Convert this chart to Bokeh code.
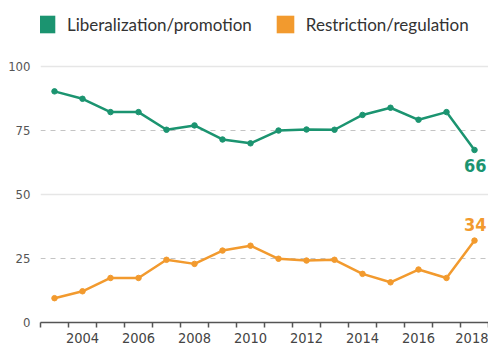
from bokeh.plotting import figure
from bokeh.models import (ColumnDataSource, Range1d, FixedTicker, Grid, Legend, LegendItem)
from bokeh.core.properties import value
from bokeh.embed import file_html
from bokeh.resources import INLINE

years = list(range(2003, 2019))
liberalization = [90.3, 87.4, 82.2, 82.2, 75.3, 77.0, 71.5, 70.0, 75.0, 75.4, 75.3, 81.1, 83.9, 79.2, 82.2, 67.4]
restriction = [9.5, 12.2, 17.4, 17.4, 24.5, 22.9, 28.1, 30.0, 24.9, 24.2, 24.5, 19.0, 15.7, 20.7, 17.4, 32.0]
end_labels = ["66", "34"]
series_names = ["Liberalization/promotion", "Restriction/regulation"]
label_years = [2004, 2006, 2008, 2010, 2012, 2014, 2016, 2018]
y_ticks = [0, 25, 50, 75, 100]

GREEN = "#1b9470"
ORANGE = "#f29a2e"
NARROW = "DejaVu Sans Condensed"

p = figure(width=488, height=345, output_backend="svg", toolbar_location=None,
           x_range=Range1d(2002.5, 2018.5), y_range=Range1d(0, 125.8),
           min_border_left=40, min_border_right=0, min_border_top=0, min_border_bottom=23)
p.outline_line_color = None
p.background_fill_color = "white"
p.border_fill_color = "white"
p.xgrid.visible = False
p.ygrid.visible = False

# grids
g1 = Grid(dimension=1, ticker=FixedTicker(ticks=[50, 100]), grid_line_color="#e6e6e6", grid_line_width=1.5)
g2 = Grid(dimension=1, ticker=FixedTicker(ticks=[25, 75]), grid_line_color="#c4c4c4", grid_line_dash="5 5", grid_line_width=1)
p.add_layout(g1)
p.add_layout(g2)

# axes
xa = p.xaxis[0]
xa.ticker = FixedTicker(ticks=label_years, minor_ticks=[y - 0.5 for y in years] + [2018.5])
xa.major_tick_out = 0
xa.major_tick_in = 0
xa.minor_tick_out = 5
xa.minor_tick_in = 0
xa.axis_line_color = "#555555"
xa.axis_line_width = 1.5
xa.minor_tick_line_color = "#555555"
xa.minor_tick_line_width = 1.5
xa.major_label_standoff = 5
xa.major_label_text_font = NARROW
xa.major_label_text_font_size = "14.5px"
xa.major_label_text_color = "#444444"

ya = p.yaxis[0]
ya.ticker = FixedTicker(ticks=y_ticks)
ya.axis_line_color = None
ya.major_tick_out = 0
ya.major_tick_in = 0
ya.minor_tick_line_color = None
ya.major_label_standoff = 10
ya.major_label_text_font = NARROW
ya.major_label_text_font_size = "13px"
ya.major_label_text_color = "#555555"

src = ColumnDataSource(dict(x=years, lib=liberalization, res=restriction))
p.line("x", "lib", source=src, line_color=GREEN, line_width=2.5)
p.scatter("x", "lib", source=src, color=GREEN, size=5.5)
p.line("x", "res", source=src, line_color=ORANGE, line_width=2.5)
p.scatter("x", "res", source=src, color=ORANGE, size=5.5)

# end labels
p.text(x=[years[-1]], y=[liberalization[-1]], text=[end_labels[0]], text_color=GREEN,
       text_font=value(NARROW), text_font_style="bold", text_font_size="18px",
       text_align="right", text_baseline="alphabetic", x_offset=12, y_offset=16)
p.text(x=[years[-1]], y=[restriction[-1]], text=[end_labels[1]], text_color=ORANGE,
       text_font=value(NARROW), text_font_style="bold", text_font_size="18px",
       text_align="right", text_baseline="alphabetic", x_offset=12, y_offset=-16)

# legend swatches (no visible data, used only for the legend)
nan = float("nan")
d1 = p.quad(left=[nan], right=[nan], top=[nan], bottom=[nan], fill_color=GREEN, line_color=None)
d2 = p.quad(left=[nan], right=[nan], top=[nan], bottom=[nan], fill_color=ORANGE, line_color=None)
legend = Legend(items=[LegendItem(label=series_names[0], renderers=[d1]),
                       LegendItem(label=series_names[1], renderers=[d2])],
                orientation="horizontal", location=(-5, 322 - 22 - 13),
                padding=0, margin=0, spacing=22, label_standoff=10,
                glyph_width=22, glyph_height=22, label_height=22,
                label_text_font="Lato", label_text_font_size="17px",
                label_text_color="#333333", border_line_color=None,
                background_fill_alpha=0)
p.add_layout(legend)

open("out.html", "w").write(file_html(p, INLINE))
